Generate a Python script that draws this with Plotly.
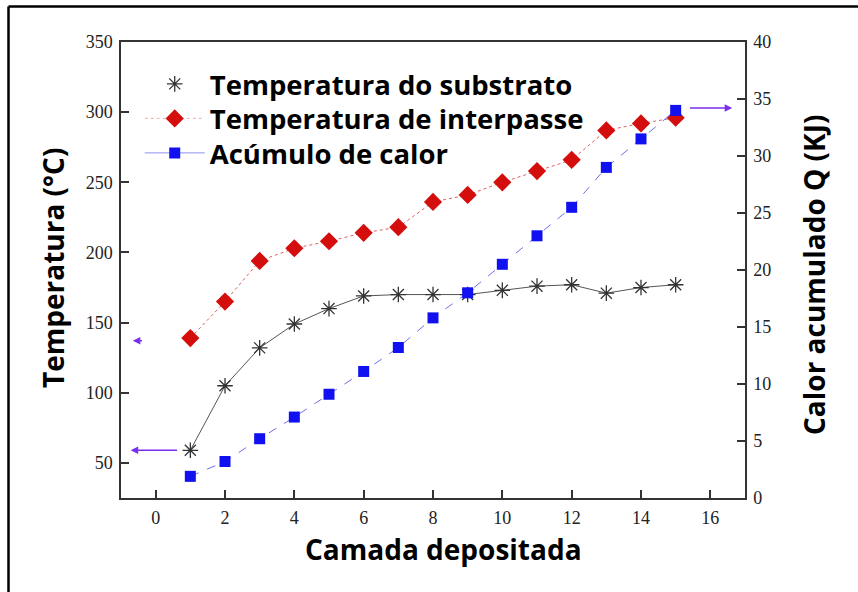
import plotly.graph_objects as go

# ---- data ----
camada = list(range(1, 16))
temp_substrato = [59, 105, 132, 149, 160, 169, 170, 170, 170, 173, 176, 177, 171, 175, 177]
temp_interpasse = [139, 165, 194, 203, 208, 214, 218, 236, 241, 250, 258, 266, 287, 292, 296]
calor_acumulado = [1.9, 3.2, 5.2, 7.1, 9.1, 11.1, 13.2, 15.8, 18.0, 20.5, 23.0, 25.5, 29.0, 31.5, 34.0]

names = ["Temperatura do substrato", "Temperatura de interpasse", "Acúmulo de calor"]
x_ticks = [0, 2, 4, 6, 8, 10, 12, 14, 16]
y_ticks = [50, 100, 150, 200, 250, 300, 350]
y2_ticks = [0, 5, 10, 15, 20, 25, 30, 35, 40]

# arrows: (x_tail, x_head, y, axis)
arrows = [(0.66, -0.72, 59, "y"), (-0.35, -0.66, 137, "y"), (15.37, 16.63, 34.2, "y2")]

RED = "#d40d0d"
BLUE = "#1010f0"
BLACK = "#333333"
PURPLE = "#7a2ef0"

fig = go.Figure()

fig.add_trace(go.Scatter(x=camada, y=temp_substrato, mode="lines+markers",
                         line=dict(color="#555555", width=1),
                         marker=dict(symbol="asterisk-open", size=13, color=BLACK,
                                     line=dict(color=BLACK, width=1.3)),
                         showlegend=False))
fig.add_trace(go.Scatter(x=camada, y=temp_interpasse, mode="lines+markers",
                         line=dict(color="#e06060", width=1, dash="dot"),
                         marker=dict(symbol="diamond", size=14, color=RED),
                         showlegend=False))
fig.add_trace(go.Scatter(x=camada, y=calor_acumulado, mode="lines+markers", yaxis="y2",
                         line=dict(color="#7070f0", width=1, dash="dash"),
                         marker=dict(symbol="square", size=11, color=BLUE),
                         showlegend=False))

# legend-only entries (one legend per row for exact spacing)
fig.add_trace(go.Scatter(x=[None], y=[None], mode="markers", name=names[0], legend="legend",
                         marker=dict(symbol="asterisk-open", size=13, color=BLACK,
                                     line=dict(color=BLACK, width=1.3))))
fig.add_trace(go.Scatter(x=[None], y=[None], mode="lines+markers", name=names[1], legend="legend2",
                         line=dict(color="#f0b0b0", width=1, dash="dot"),
                         marker=dict(symbol="diamond", size=14, color=RED)))
fig.add_trace(go.Scatter(x=[None], y=[None], mode="lines+markers", name=names[2], legend="legend3",
                         line=dict(color="#9090f0", width=1),
                         marker=dict(symbol="square", size=11, color=BLUE)))

tickfont = dict(family="Liberation Serif", size=18, color="#222222")
axis_common = dict(showline=True, linecolor="#333333", linewidth=1.5, ticks="inside",
                   ticklen=8, tickwidth=1.5, tickcolor="#333333", showgrid=False,
                   zeroline=False, tickfont=tickfont)

legend_font = dict(family="Open Sans", size=27.5, color="black", weight="bold")
legend_rows_px = [84, 118.5, 153]
legends = {}
for i, ypx in enumerate(legend_rows_px):
    key = "legend" if i == 0 else f"legend{i + 1}"
    legends[key] = dict(x=0.03, y=(498 - ypx) / 456, xanchor="left", yanchor="middle",
                        bgcolor="rgba(0,0,0,0)", font=legend_font, itemwidth=60)

fig.update_layout(
    width=858, height=592,
    margin=dict(l=121, r=113, t=42, b=94),
    paper_bgcolor="white", plot_bgcolor="white",
    xaxis=dict(range=[-1, 17], tickvals=x_ticks, mirror=True, ticklabelstandoff=3, **axis_common),
    yaxis=dict(range=[25, 350], tickvals=y_ticks, ticklabelstandoff=3, **axis_common),
    yaxis2=dict(range=[0, 40], tickvals=y2_ticks, overlaying="y", side="right",
                ticklabelstandoff=3, **axis_common),
    showlegend=True,
    **legends,
)

title_font = dict(family="Open Sans", size=28, color="black", weight="bold")
fig.add_annotation(text="Temperatura (°C)", xref="paper", yref="paper",
                   x=(53 - 121) / 624, y=(498 - 268) / 456, showarrow=False,
                   xanchor="center", yanchor="middle", textangle=-90, font=title_font)
fig.add_annotation(text="Calor acumulado Q (KJ)", xref="paper", yref="paper",
                   x=(814 - 121) / 624, y=(498 - 275) / 456, showarrow=False,
                   xanchor="center", yanchor="middle", textangle=-90, font=title_font)
fig.add_annotation(text="Camada depositada", xref="paper", yref="paper",
                   x=(443 - 121) / 624, y=(498 - 549) / 456, showarrow=False,
                   xanchor="center", yanchor="middle", font=title_font)

for xt, xh, yv, ax in arrows:
    fig.add_annotation(x=xh, y=yv, ax=xt, ay=yv, xref="x", yref=ax, axref="x", ayref=ax,
                       showarrow=True, arrowhead=2, arrowsize=1, arrowwidth=1.5,
                       arrowcolor=PURPLE, text="")

# outer frame (open on right/bottom)
fx = (8.5 - 121) / 624
fy = (498 - 6.5) / 456
fig.add_shape(type="line", xref="paper", yref="paper", x0=fx, x1=(858 - 121) / 624 + 0.01,
              y0=fy, y1=fy, line=dict(color="black", width=2.5))
fig.add_shape(type="line", xref="paper", yref="paper", x0=fx, x1=fx,
              y0=fy, y1=(498 - 600) / 456, line=dict(color="black", width=2.5))

fig.write_html("out.html")
